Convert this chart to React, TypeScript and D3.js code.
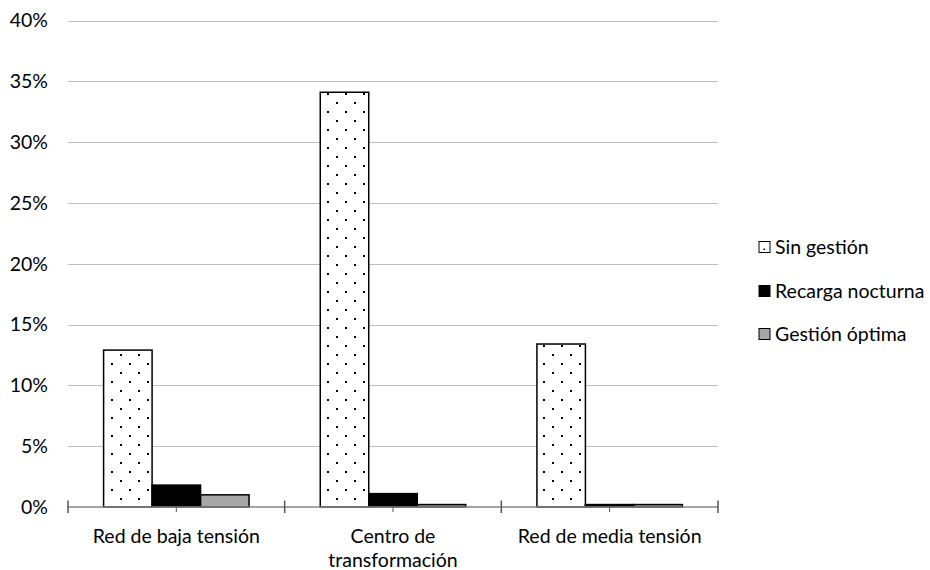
import React from "react";
import * as d3 from "d3";

// Categories (axis labels, split into display lines)
const categories = ["Red de baja tensión", "Centro de transformación", "Red de media tensión"];
const categoryLines = [["Red de baja tensión"], ["Centro de", "transformación"], ["Red de media tensión"]];

// Series names and values (%)
const seriesNames = ["Sin gestión", "Recarga nocturna", "Gestión óptima"];
const sinGestion = [12.9, 34.1, 13.4];
const recargaNocturna = [1.8, 1.1, 0.2];
const gestionOptima = [1.0, 0.2, 0.2];

// Y axis ticks (%)
const yTicks = [0, 5, 10, 15, 20, 25, 30, 35, 40];

const seriesValues = [sinGestion, recargaNocturna, gestionOptima];
const FONT = "Lato, 'Open Sans', sans-serif";
const FS = 19.5;

export default function App() {
  const width = 930;
  const height = 570;
  const left = 68;
  const right = 718;
  const top = 20.5;
  const bottom = 507;

  const x = d3.scaleBand<string>().domain(categories).range([left, right]).padding(0);
  const xs = d3
    .scaleBand<string>()
    .domain(seriesNames)
    .range([0, x.bandwidth()])
    .paddingInner(0)
    .paddingOuter(0.734);
  const y = d3.scaleLinear().domain([0, 40]).range([bottom, top]);

  const fills = ["url(#dots)", "#000000", "#a6a6a6"];

  const boundaries = categories.map((c) => x(c) as number).concat([right]);
  const centers = categories.map((c) => (x(c) as number) + x.bandwidth() / 2);

  const legendX = 759;
  const legendY = [247, 291, 334];

  return (
    <div style={{ position: "absolute", left: 0, top: 0 }}>
      <svg width={width} height={height} style={{ display: "block", background: "#fff" }}>
        <defs>
          <pattern id="dots" width={18} height={18} patternUnits="userSpaceOnUse" x={0} y={0}>
            <rect width={18} height={18} fill="#fff" />
            <rect x={3} y={3} width={2} height={2} fill="#000" />
            <rect x={12} y={12} width={2} height={2} fill="#000" />
          </pattern>
        </defs>

        {/* gridlines */}
        {yTicks.filter((t) => t > 0).map((t) => (
          <line key={t} x1={left} x2={right} y1={Math.round(y(t)) + 0.5} y2={Math.round(y(t)) + 0.5} stroke="#bfbfbf" strokeWidth={1} />
        ))}

        {/* y tick labels */}
        {yTicks.map((t) => (
          <text key={t} x={48} y={y(t)} dy="0.35em" textAnchor="end" fontFamily={FONT} fontSize={FS} fill="#000">
            {t}%
          </text>
        ))}

        {/* bars */}
        {categories.map((c, ci) =>
          seriesNames.map((s, si) => {
            const v = seriesValues[si][ci];
            const bx = (x(c) as number) + (xs(s) as number);
            return (
              <rect
                key={c + s}
                x={bx}
                y={y(v)}
                width={xs.bandwidth()}
                height={bottom - y(v)}
                fill={fills[si]}
                stroke="#000"
                strokeWidth={1.5}
              />
            );
          })
        )}

        {/* x axis */}
        <line x1={left} x2={right} y1={bottom} y2={bottom} stroke="#868686" strokeWidth={1.5} />
        {boundaries.map((bx, i) => (
          <line key={"b" + i} x1={bx} x2={bx} y1={bottom - 6.5} y2={bottom + 6} stroke="#555" strokeWidth={1.5} />
        ))}
        {centers.map((cx, i) => (
          <line key={"c" + i} x1={cx} x2={cx} y1={bottom} y2={bottom + 5} stroke="#555" strokeWidth={1} />
        ))}

        {/* category labels */}
        {categories.map((c, ci) => (
          <text key={c} x={centers[ci]} y={543} textAnchor="middle" fontFamily={FONT} fontSize={FS} fill="#000">
            {categoryLines[ci].map((ln, li) => (
              <tspan key={li} x={centers[ci]} dy={li === 0 ? 0 : 24}>
                {ln}
              </tspan>
            ))}
          </text>
        ))}

        {/* legend */}
        {seriesNames.map((s, si) => (
          <g key={s} transform={`translate(${legendX},${legendY[si]})`}>
            <rect x={0} y={-5.5} width={11} height={11} fill={si === 0 ? "#fff" : fills[si]} stroke="#000" strokeWidth={1} />
            {si === 0 && <rect x={4.5} y={1.5} width={1.5} height={1.5} fill="#000" />}
            <text x={16} y={0} dy="0.35em" fontFamily={FONT} fontSize={FS} fill="#000">
              {s}
            </text>
          </g>
        ))}
      </svg>
    </div>
  );
}
